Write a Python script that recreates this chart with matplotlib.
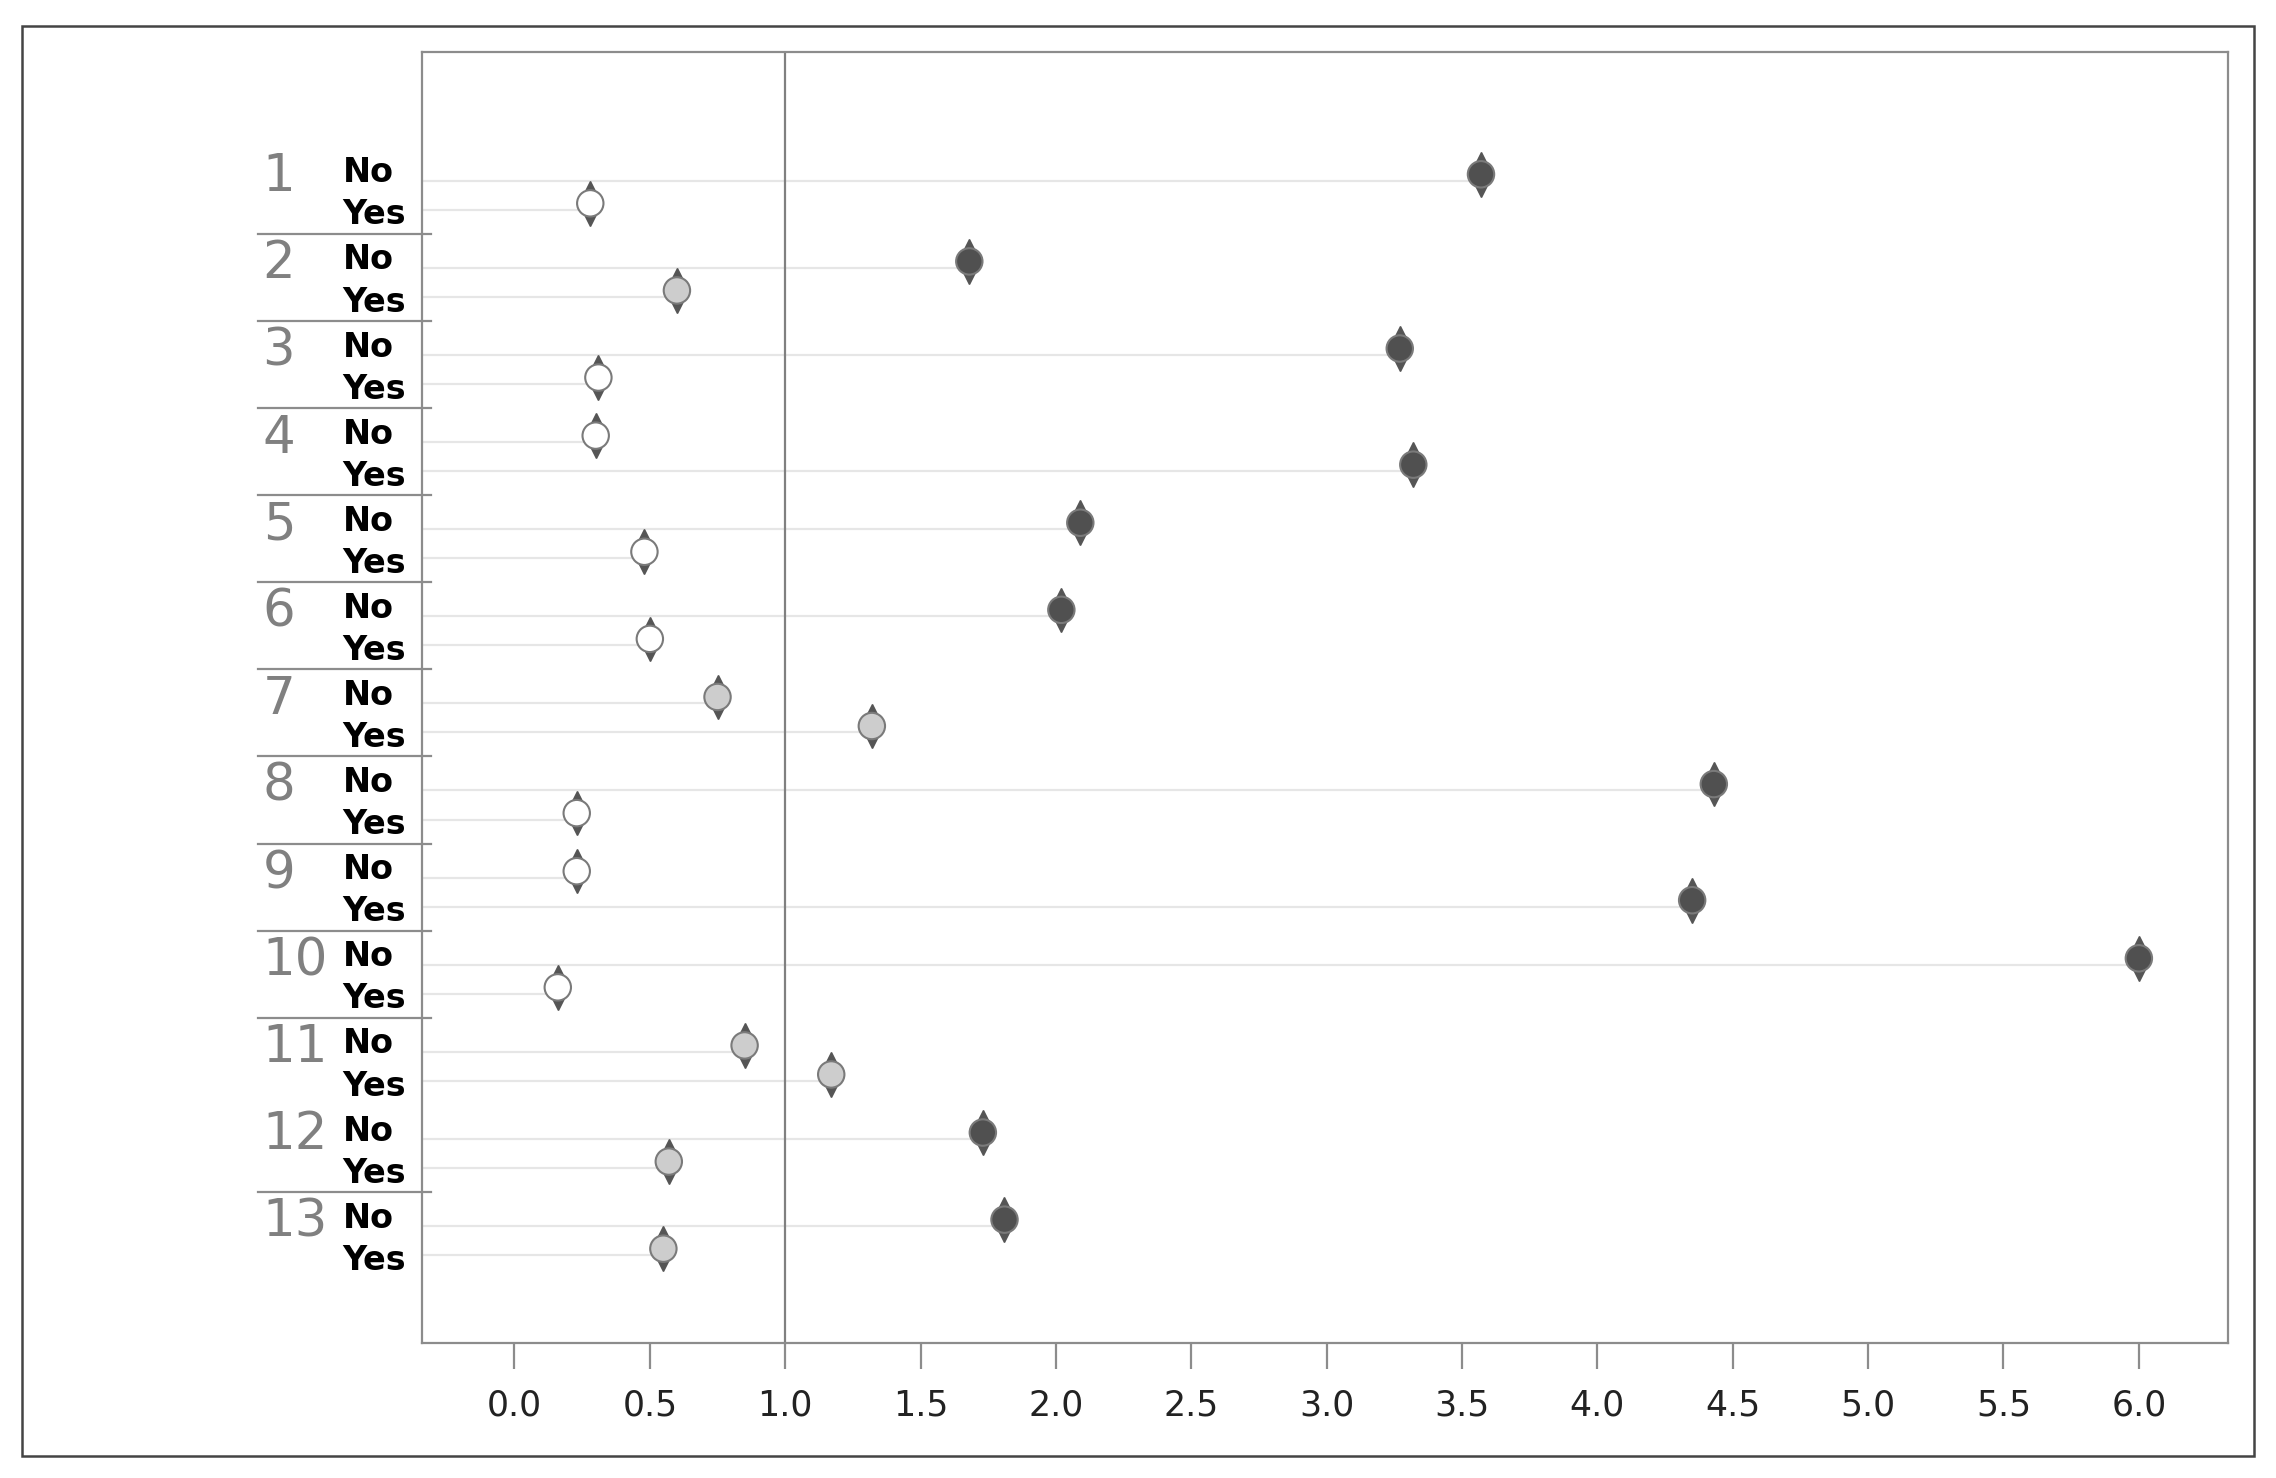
import numpy as np
import matplotlib
matplotlib.use('Agg')
import matplotlib.pyplot as plt
from matplotlib.patches import Rectangle
from matplotlib.transforms import offset_copy

# values
groups = ['1', '2', '3', '4', '5', '6', '7', '8', '9', '10', '11', '12', '13']
sub_labels = ['No', 'Yes']
no_vals = [3.57, 1.68, 3.27, 0.30, 2.09, 2.02, 0.75, 4.43, 0.23, 6.00, 0.85, 1.73, 1.81]
yes_vals = [0.28, 0.60, 0.31, 3.32, 0.48, 0.50, 1.32, 0.23, 4.35, 0.16, 1.17, 0.57, 0.55]
sep_after = ['1', '2', '3', '4', '5', '6', '7', '8', '9', '10', '12']
x_ticks = [0.0, 0.5, 1.0, 1.5, 2.0, 2.5, 3.0, 3.5, 4.0, 4.5, 5.0, 5.5, 6.0]
ref_value = 1.0


def fill_for(v):
    if v < 0.52:
        return 'white'
    if v < 1.5:
        return '#cdcdcd'
    return '#505050'


fig = plt.figure(figsize=(22.76, 14.78), dpi=100)
ax = fig.add_axes([0.1856, 0.0913, 0.7934, 0.8733])

# outer frame of the figure
fig.patches.append(Rectangle((0.0096, 0.0149), 0.9808, 0.9675, transform=fig.transFigure,
                             fill=False, edgecolor='#444444', linewidth=1.8))

vals, ys = [], []
for g, name in enumerate(groups):
    for k, v in enumerate([no_vals[g], yes_vals[g]]):
        vals.append(v)
        ys.append(3 * g + k)
vals = np.array(vals)
ys = np.array(ys)

x_left = -0.34
ax.hlines(ys + 0.22, x_left, vals, color='#e6e6e6', linewidth=1.6, zorder=1)
ax.axvline(ref_value, color='#808080', linewidth=1.6, zorder=2)

up = offset_copy(ax.transData, fig=fig, x=0, y=11, units='points')
down = offset_copy(ax.transData, fig=fig, x=0, y=-11, units='points')
ax.plot(vals, ys, ls='none', marker='^', ms=9.5, color='#555555', transform=up, zorder=3)
ax.plot(vals, ys, ls='none', marker='v', ms=9.5, color='#555555', transform=down, zorder=3)
ax.scatter(vals, ys, s=19 ** 2, c=[fill_for(v) for v in vals], edgecolors='#7a7a7a',
           linewidths=1.5, zorder=4)

ax.set_xlim(x_left, 6.33)
ax.set_ylim(40.25, -4.2)

ax.set_xticks(x_ticks)
ax.set_xticklabels(['%.1f' % t for t in x_ticks], fontfamily='DejaVu Sans')
ax.tick_params(axis='x', length=19, width=1.6, color='#8c8c8c', labelsize=25, pad=14,
               labelcolor='#222222')
ax.set_yticks([])
for s in ax.spines.values():
    s.set_color('#8c8c8c')
    s.set_linewidth(1.6)

yt = ax.get_yaxis_transform()
for g, name in enumerate(groups):
    ax.text(-0.0885, 3 * g + 0.1, name, transform=yt, ha='left', va='center',
            fontsize=37, color='#808080', fontfamily='DejaVu Sans')
    ax.text(-0.0442, 3 * g - 0.05, sub_labels[0], transform=yt, ha='left', va='center',
            fontsize=24, color='black', fontfamily='DejaVu Sans', fontweight='bold')
    ax.text(-0.0442, 3 * g + 1.4, sub_labels[1], transform=yt, ha='left', va='center',
            fontsize=24, color='black', fontfamily='DejaVu Sans', fontweight='bold')
    if name in sep_after:
        ax.plot([-0.0908, 0.0048], [3 * g + 2.05] * 2, transform=yt, clip_on=False,
                color='#8c8c8c', linewidth=1.6)

fig.savefig('out.png', dpi=100)
